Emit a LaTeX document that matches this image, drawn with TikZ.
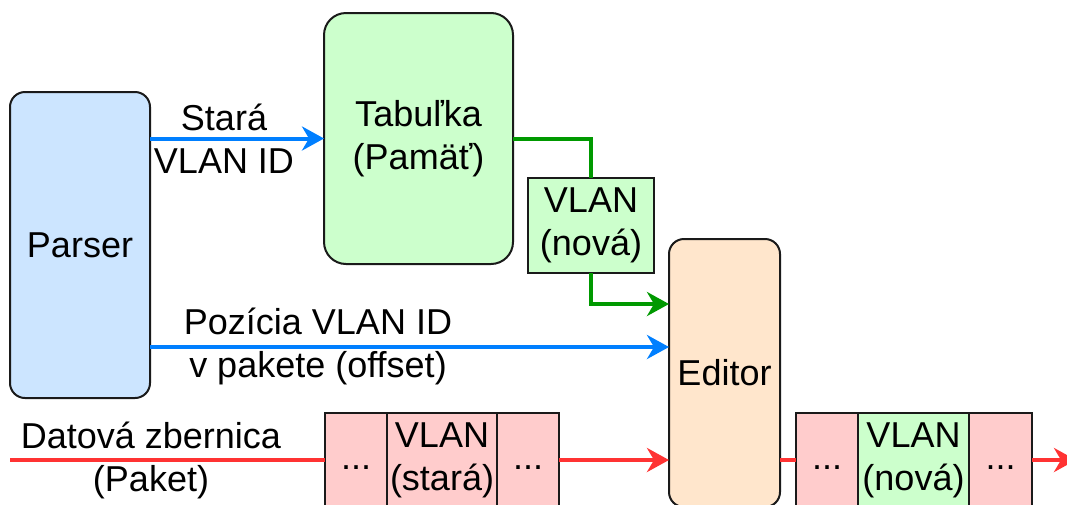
\documentclass[tikz,border=0pt]{standalone}
\usepackage{fontspec}
\setmainfont{Liberation Sans}
\usetikzlibrary{arrows.meta}

\definecolor{parserfill}{HTML}{CCE5FF}
\definecolor{greenfill}{HTML}{CCFFCC}
\definecolor{editorfill}{HTML}{FFE6CC}
\definecolor{pinkfill}{HTML}{FFCCCC}
\definecolor{blueline}{HTML}{007FFF}
\definecolor{greenline}{HTML}{009900}
\definecolor{redline}{HTML}{FF3333}
\definecolor{border}{HTML}{1A1A1A}

\newcommand{\gap}{\vphantom{(Ag)}...}

\begin{document}
\begin{tikzpicture}[x=1pt, y=-1pt,
  every node/.style={font=\fontsize{36}{43}\selectfont, text=black, align=center, inner sep=0pt},
  block/.style={draw=border, line width=2pt, minimum width=#1, outer sep=0pt},
  unit/.style={block=#1, rounded corners=15pt},
  cell/.style={block=#1, minimum height=94pt},
  wire/.style={line width=4pt, -{Stealth[length=22pt, width=24pt, inset=7pt]}},
  plainwire/.style={line width=4pt}
]
\useasboundingbox (0,0) rectangle (1067,504);
\clip (0,0) rectangle (1067,504);

% processing units
\node[unit=140pt, minimum height=306pt, fill=parserfill] (parser) at (80,245) {Parser};
\node[unit=189pt, minimum height=251pt, fill=greenfill, rounded corners=22pt] (table) at (418.5,138.5) {Tabuľka\\(Pamäť)};
\node[block=126pt, minimum height=95pt, fill=greenfill] (vnew) at (591,225.5) {VLAN\\(nová)};
\node[unit=111pt, minimum height=268pt, fill=editorfill] (editor) at (724.5,373) {Editor};

% incoming packet
\node[cell=62pt, fill=pinkfill] (p1a) at (356,460) {\gap};
\node[cell=110pt, fill=pinkfill, anchor=west] (p1b) at (p1a.east) {VLAN\\(stará)};
\node[cell=62pt, fill=pinkfill, anchor=west] (p1c) at (p1b.east) {\gap};

% outgoing packet
\node[cell=62pt, fill=pinkfill] (p2a) at (827,460) {\gap};
\node[cell=111pt, fill=greenfill, anchor=west] (p2b) at (p2a.east) {VLAN\\(nová)};
\node[cell=63pt, fill=pinkfill, anchor=west] (p2c) at (p2b.east) {\gap};

% connection points
\coordinate (gin) at (editor.west |- 0,304);
\coordinate (pin) at (editor.west |- 0,347);
\coordinate (busin) at (10,460);
\coordinate (busout) at (1076,460);

% old VLAN ID lookup
\draw[wire, blueline] (parser.east |- table.west) -- (table.west);
\node (lblold) at (224,139) {Stará\\VLAN ID};

% new VLAN from the table
\draw[plainwire, greenline] (table.east) -| (vnew.north);
\draw[wire, greenline] (vnew.south) |- (gin);

% offset of the VLAN ID
\draw[wire, blueline] (parser.east |- pin) -- (pin);
\node (lbloffset) at (318,346) {Pozícia VLAN ID\\v pakete (offset)};

% data bus
\draw[plainwire, redline] (busin) -- (p1a.west);
\node (lblbus) at (151,460) {Datová zbernica\\(Paket)};
\draw[wire, redline] (p1c.east) -- (editor.west |- p1c.east);
\draw[plainwire, redline] (editor.east |- p2a.west) -- (p2a.west);
\draw[wire, redline] (p2c.east) -- (busout);
\end{tikzpicture}
\end{document}
